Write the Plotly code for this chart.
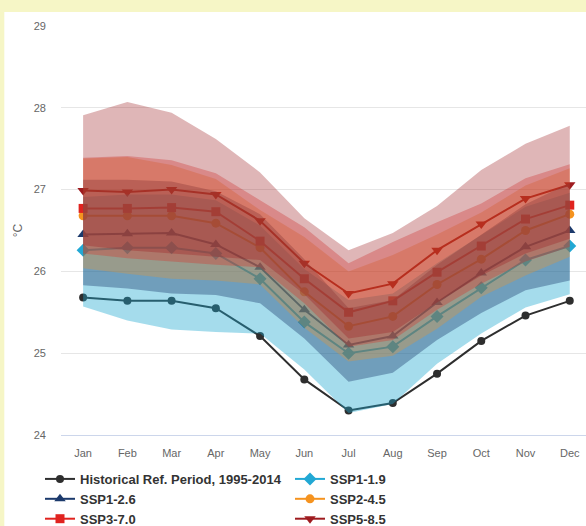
import plotly.graph_objects as go

months = ['Jan', 'Feb', 'Mar', 'Apr', 'May', 'Jun', 'Jul', 'Aug', 'Sep', 'Oct', 'Nov', 'Dec']
y_ticks = [24, 25, 26, 27, 28, 29]

hist = [25.68, 25.64, 25.64, 25.55, 25.21, 24.68, 24.30, 24.39, 24.75, 25.15, 25.46, 25.64]
ssp119 = [26.26, 26.29, 26.29, 26.22, 25.91, 25.38, 25.00, 25.08, 25.45, 25.80, 26.14, 26.31]
ssp126 = [26.45, 26.46, 26.47, 26.33, 26.05, 25.53, 25.10, 25.21, 25.62, 25.98, 26.30, 26.50]
ssp245 = [26.68, 26.68, 26.68, 26.59, 26.29, 25.75, 25.33, 25.45, 25.84, 26.15, 26.50, 26.70]
ssp370 = [26.77, 26.77, 26.78, 26.73, 26.37, 25.91, 25.50, 25.64, 25.99, 26.31, 26.64, 26.81]
ssp585 = [26.99, 26.97, 27.00, 26.94, 26.62, 26.10, 25.73, 25.85, 26.26, 26.58, 26.89, 27.06]

lo119 = [25.57, 25.40, 25.29, 25.26, 25.24, 24.80, 24.27, 24.38, 24.87, 25.24, 25.56, 25.72]
hi119 = [26.91, 26.94, 26.94, 26.87, 26.56, 26.03, 25.65, 25.73, 26.10, 26.45, 26.79, 26.96]
lo126 = [25.83, 25.79, 25.73, 25.71, 25.61, 25.18, 24.65, 24.76, 25.16, 25.49, 25.77, 25.89]
hi126 = [27.12, 27.12, 27.10, 26.98, 26.70, 26.15, 25.55, 25.65, 26.08, 26.45, 26.82, 27.08]
lo245 = [26.04, 25.97, 25.91, 25.89, 25.84, 25.31, 24.90, 24.97, 25.30, 25.69, 25.95, 26.18]
hi245 = [27.38, 27.40, 27.30, 27.13, 26.75, 26.42, 26.00, 26.20, 26.45, 26.72, 27.05, 27.26]
lo370 = [26.22, 26.16, 26.12, 26.08, 26.05, 25.61, 25.08, 25.16, 25.53, 25.85, 26.12, 26.30]
hi370 = [27.39, 27.41, 27.36, 27.20, 26.87, 26.54, 26.10, 26.36, 26.60, 26.83, 27.14, 27.31]
lo585 = [26.32, 26.26, 26.22, 26.18, 26.14, 25.72, 25.18, 25.26, 25.62, 25.95, 26.22, 26.40]
hi585 = [27.91, 28.07, 27.94, 27.62, 27.21, 26.65, 26.26, 26.47, 26.80, 27.24, 27.56, 27.78]

series = [
    ('Historical Ref. Period, 1995-2014', hist, '#2e2e2e', 'circle', 8),
    ('SSP1-1.9', ssp119, '#22a8d4', 'diamond', 10),
    ('SSP1-2.6', ssp126, '#1c3a6c', 'triangle-up', 10),
    ('SSP2-4.5', ssp245, '#f5931f', 'circle', 9),
    ('SSP3-7.0', ssp370, '#e0231f', 'square', 9),
    ('SSP5-8.5', ssp585, '#9e1b1f', 'triangle-down', 10),
]

bands = [
    (lo119, hi119, 'rgba(31,168,208,0.40)'),
    (lo126, hi126, 'rgba(26,58,107,0.38)'),
    (lo245, hi245, 'rgba(245,148,34,0.30)'),
    (lo370, hi370, 'rgba(224,35,31,0.30)'),
    (lo585, hi585, 'rgba(155,28,31,0.32)'),
]

fig = go.Figure()

for name, vals, col, sym, sz in series:
    fig.add_trace(go.Scatter(
        x=months, y=vals, name=name, mode='lines+markers',
        line=dict(color=col, width=2),
        marker=dict(symbol=sym, size=sz, color=col),
    ))

for lo, hi, fc in bands:
    fig.add_trace(go.Scatter(
        x=months + months[::-1], y=hi + lo[::-1],
        fill='toself', fillcolor=fc, mode='lines',
        line=dict(width=0, color=fc), showlegend=False, hoverinfo='skip',
    ))

fig.update_layout(
    width=586, height=526,
    margin=dict(l=61, r=0, t=26, b=91, autoexpand=False),
    paper_bgcolor='#f6f6c6',
    plot_bgcolor='white',
    font=dict(family='Liberation Sans, Arial, sans-serif', size=11, color='#666666'),
    showlegend=True,
    legend=dict(
        orientation='h', x=-0.04, xanchor='left', y=-0.0708, yanchor='top',
        entrywidth=205, entrywidthmode='pixels',
        font=dict(family='Liberation Sans, Arial, sans-serif', size=13, color='#333333', weight='bold'),
        bgcolor='rgba(0,0,0,0)', itemclick=False,
        traceorder='normal',
    ),
    shapes=[dict(type='rect', xref='paper', yref='paper', x0=-0.108, x1=1.05,
                 y0=-0.3, y1=1.034, fillcolor='white', line=dict(width=0), layer='below')],
)

fig.update_xaxes(
    type='category', range=[-0.5, 11.367], showgrid=False, automargin=False,
    showline=True, linecolor='#ccd6eb', linewidth=1, ticks='',
    ticklabelstandoff=8, tickfont=dict(size=11, color='#666666'),
    fixedrange=True,
)
fig.update_yaxes(
    range=[24, 29], tickvals=y_ticks, showgrid=True, gridcolor='#e6e6e6', gridwidth=1,
    zeroline=False, showline=False, ticks='', ticklabelstandoff=14, automargin=False,
    tickfont=dict(size=11, color='#666666'),
    title=dict(text='°C', font=dict(size=12, color='#666666'), standoff=8),
    fixedrange=True,
)

fig.write_html('out.html', config={'displayModeBar': False},
               post_script="document.body.style.margin='0';document.body.style.overflow='hidden';")
